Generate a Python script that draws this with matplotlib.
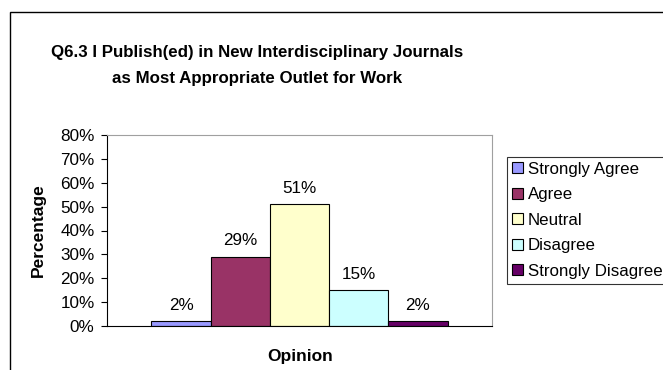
import matplotlib
matplotlib.use("Agg")
import matplotlib.pyplot as plt
from matplotlib.patches import Rectangle
import numpy as np

plt.rcParams['font.family'] = ['Liberation Sans', 'DejaVu Sans']

categories = ['Strongly Agree', 'Agree', 'Neutral', 'Disagree', 'Strongly Disagree']
values = [2, 29, 51, 15, 2]
colors = ['#9999FF', '#993366', '#FFFFCC', '#CCFFFF', '#660066']
yticks = [0, 10, 20, 30, 40, 50, 60, 70, 80]

W, H = 663, 370
fig = plt.figure(figsize=(W / 100, H / 100), dpi=100)

# outer chart border (right/bottom edges run off the picture)
fig.patches.append(Rectangle((10 / W, -0.1), 1.2, 1 - 12 / H + 0.1, transform=fig.transFigure,
                             fill=False, edgecolor='black', linewidth=1.0))

ax = fig.add_axes([107 / W, 1 - 326 / H, 385 / W, 191 / H])

x = np.arange(len(values)) - 2
bars = ax.bar(x, values, width=1.0, color=colors, edgecolor='black', linewidth=0.8)
for xi, v in zip(x, values):
    ax.text(xi, v + 3.5, f'{v}%', ha='center', va='bottom', fontsize=12.3)

ax.set_xlim(-3.25, 3.25)
ax.set_ylim(0, 80)
ax.set_yticks(yticks)
ax.set_yticklabels([f'{t}%' for t in yticks], fontsize=12.3)
ax.set_xticks([])
ax.tick_params(axis='y', direction='out', length=4, width=0.8, pad=5)

for s in ['top', 'right']:
    ax.spines[s].set_color('#A0A0A0')
for s in ['left', 'bottom']:
    ax.spines[s].set_color('black')
    ax.spines[s].set_linewidth(0.8)

fig.text(38 / W, 1 - 230 / H, 'Percentage', ha='center', va='center', rotation=90,
         fontsize=12.5, fontweight='bold')
fig.text(300 / W, 1 - 357 / H, 'Opinion', ha='center', va='center', fontsize=12.5, fontweight='bold')

fig.text(257 / W, 1 - 52 / H, 'Q6.3 I Publish(ed) in New Interdisciplinary Journals',
         ha='center', va='center', fontsize=12.2, fontweight='bold')
fig.text(257 / W, 1 - 78 / H, 'as Most Appropriate Outlet for Work',
         ha='center', va='center', fontsize=12.2, fontweight='bold')

handles = [Rectangle((0, 0), 1, 1, facecolor=c, edgecolor='black', linewidth=0.8) for c in colors]
leg = fig.legend(handles, categories, loc='upper left', bbox_to_anchor=(507 / W, 1 - 157 / H),
                 fontsize=12.2, frameon=True, fancybox=False, borderpad=0.28,
                 handlelength=0.65, handleheight=0.65, handletextpad=0.3, labelspacing=0.62,
                 borderaxespad=0)
leg.get_frame().set_edgecolor('black')
leg.get_frame().set_linewidth(0.8)

fig.savefig('out.png', dpi=100)
